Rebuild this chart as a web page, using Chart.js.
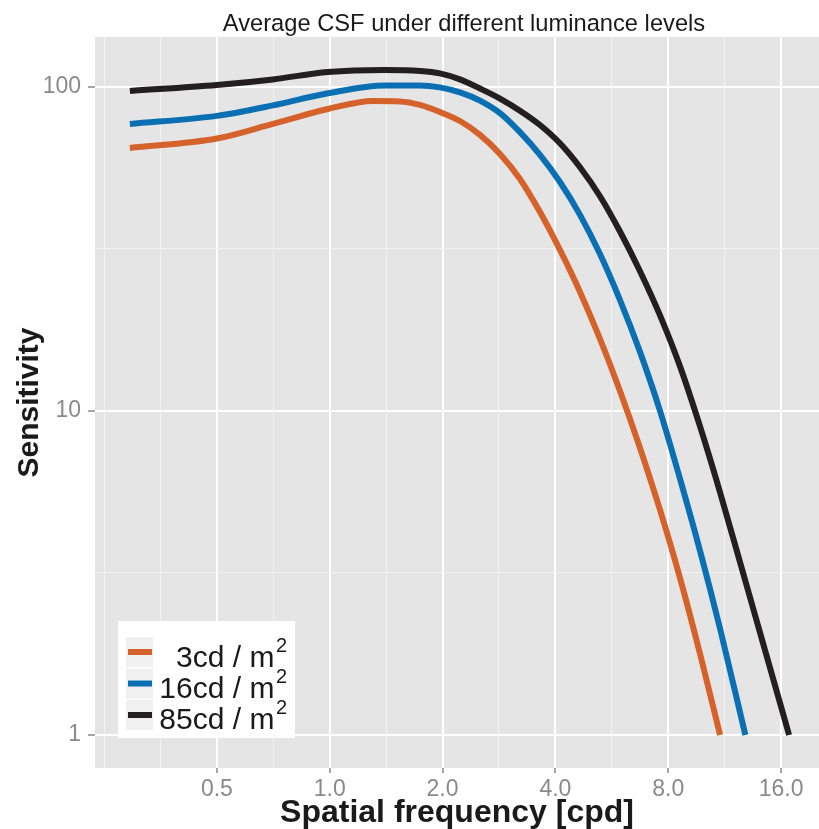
<!DOCTYPE html>
<html><head><meta charset="utf-8">
<script src="https://cdn.jsdelivr.net/npm/chart.js@4/dist/chart.umd.min.js"></script>
<style>html,body{margin:0;padding:0;background:#fff;}canvas{display:block;}</style>
</head><body>
<canvas id="c" width="819" height="829"></canvas>
<script>
const titleText = 'Average CSF under different luminance levels';
const xAxisTitle = 'Spatial frequency [cpd]';
const yAxisTitle = 'Sensitivity';
const xMajorTicks = [0.5, 1, 2, 4, 8, 16];
const xTickLabels = ['0.5', '1.0', '2.0', '4.0', '8.0', '16.0'];
const xMinorTicks = [0.25, 0.3536, 0.7071, 1.4142, 2.8284, 5.6569, 11.3137];
const yMajorTicks = [1, 10, 100];
const yTickLabels = ['1', '10', '100'];
const yMinorTicks = [3.1623, 31.623];
const seriesLabels = ['3cd / m²', '16cd / m²', '85cd / m²'];

const freq3  = [0.293, 0.5, 0.705, 0.989, 1.304, 1.539, 1.741, 1.968, 2.226, 2.517, 2.846, 3.218, 3.639, 4.114, 4.653, 5.261, 5.949, 6.727, 7.607, 8.602, 9.727, 11.0];
const sens3  = [64.8, 69.3, 76.9, 85.5, 90.5, 90.2, 88.0, 83.7, 78.5, 71.1, 62.1, 52.0, 41.1, 31.4, 23.3, 16.68, 11.53, 7.69, 4.95, 3.05, 1.78, 1.0];
const freq16 = [0.293, 0.5, 0.705, 0.989, 1.404, 1.741, 1.968, 2.226, 2.517, 2.846, 3.218, 3.639, 4.114, 4.653, 5.261, 5.949, 6.727, 7.607, 8.602, 9.727, 11.0, 12.85];
const sens16 = [76.9, 81.4, 87.7, 95.6, 101.1, 101.1, 99.7, 96.2, 90.7, 83.0, 72.5, 61.7, 50.9, 40.3, 30.5, 22.0, 15.22, 10.01, 6.17, 3.70, 2.13, 1.0];
const freq85 = [0.293, 0.5, 0.705, 0.989, 1.404, 1.741, 1.968, 2.226, 2.517, 2.846, 3.218, 3.639, 4.114, 4.653, 5.261, 5.949, 6.727, 7.607, 8.602, 9.727, 11.0, 12.44, 14.06, 16.81];
const sens85 = [97.2, 101.4, 105.5, 111.2, 112.8, 112.0, 110.1, 105.5, 98.9, 92.1, 84.5, 76.3, 67.0, 56.5, 46.0, 35.8, 27.0, 19.73, 13.73, 8.96, 5.61, 3.41, 2.07, 1.0];

const toPts = (xs, ys) => xs.map((x, i) => ({x: x, y: ys[i]}));
const FONT = '"Liberation Sans", Arial, Helvetica, sans-serif';

const panelBg = {
  id: 'panelBg',
  beforeDraw(chart) {
    const {ctx, chartArea: a, width, height} = chart;
    ctx.save();
    ctx.fillStyle = '#ffffff';
    ctx.fillRect(0, 0, width, height);
    ctx.fillStyle = '#e5e5e5';
    ctx.fillRect(a.left, a.top, a.right - a.left, a.bottom - a.top);
    ctx.restore();
  }
};

const titlePlugin = {
  id: 'ggTitle',
  afterDraw(chart) {
    const ctx = chart.ctx;
    ctx.save();
    ctx.font = '23.7px ' + FONT;
    ctx.fillStyle = '#1a1a1a';
    ctx.textAlign = 'center';
    ctx.textBaseline = 'alphabetic';
    ctx.fillText(titleText, 464, 31);
    ctx.restore();
  }
};

const legendPlugin = {
  id: 'ggLegend',
  afterDatasetsDraw(chart) {
    const ctx = chart.ctx;
    ctx.save();
    ctx.fillStyle = '#ffffff';
    ctx.fillRect(118, 621, 177, 117);
    chart.data.datasets.forEach((ds, i) => {
      const top = 637 + 31.5 * i;
      const baseline = 667 + 31 * i;
      ctx.fillStyle = '#f0f0f1';
      ctx.fillRect(126, top, 27, 30);
      ctx.strokeStyle = ds.borderColor;
      ctx.lineWidth = 6;
      ctx.lineCap = 'butt';
      ctx.beginPath();
      ctx.moveTo(128, top + 15);
      ctx.lineTo(152, top + 15);
      ctx.stroke();
      const label = ds.label;
      const hasSup = label.endsWith('²');
      const base = hasSup ? label.slice(0, -1) : label;
      const right = 287;
      ctx.fillStyle = '#1a1a1a';
      ctx.textBaseline = 'alphabetic';
      let supW = 0;
      if (hasSup) {
        ctx.font = '20px ' + FONT;
        supW = ctx.measureText('2').width;
        ctx.textAlign = 'left';
        ctx.fillText('2', right - supW, baseline - 15);
      }
      ctx.font = '30px ' + FONT;
      ctx.textAlign = 'right';
      ctx.fillText(base, right - supW - 1.5, baseline);
    });
    ctx.restore();
  }
};

const isIn = (arr, v) => arr.some(a => Math.abs(a - v) < 1e-6);

new Chart(document.getElementById('c'), {
  type: 'line',
  data: {
    datasets: [
      {label: seriesLabels[0], data: toPts(freq3, sens3), borderColor: '#d5622b'},
      {label: seriesLabels[1], data: toPts(freq16, sens16), borderColor: '#0b70b3'},
      {label: seriesLabels[2], data: toPts(freq85, sens85), borderColor: '#231f20'}
    ]
  },
  options: {
    responsive: false,
    animation: false,
    devicePixelRatio: 1,
    layout: {padding: {top: 37, left: 0, right: 0, bottom: 0}},
    elements: {
      line: {borderWidth: 6, cubicInterpolationMode: 'monotone', borderCapStyle: 'butt', borderJoinStyle: 'round', fill: false},
      point: {radius: 0, hoverRadius: 0}
    },
    plugins: {legend: {display: false}, title: {display: false}, tooltip: {enabled: false}},
    scales: {
      x: {
        type: 'logarithmic',
        min: 0.2365, max: 20.2,
        afterBuildTicks: s => { s.ticks = [...xMajorTicks, ...xMinorTicks].sort((a, b) => a - b).map(v => ({value: v})); },
        afterFit: s => { s.height = 61; },
        border: {display: false},
        grid: {
          color: c => isIn(xMajorTicks, c.tick.value) ? '#ffffff' : '#f2f2f2',
          lineWidth: c => isIn(xMajorTicks, c.tick.value) ? 2 : 1,
          tickColor: c => isIn(xMajorTicks, c.tick.value) ? '#8a8a8a' : 'rgba(0,0,0,0)',
          tickLength: 5,
          tickWidth: 1.5
        },
        ticks: {
          autoSkip: false, maxRotation: 0, padding: 3,
          color: '#8a8a8a', font: {family: FONT, size: 23},
          callback: v => { const i = xMajorTicks.findIndex(a => Math.abs(a - v) < 1e-6); return i >= 0 ? xTickLabels[i] : ''; }
        },
        title: {display: true, text: xAxisTitle, color: '#1a1a1a', font: {family: FONT, size: 32, weight: 'bold', lineHeight: 1}, padding: {top: 0, bottom: 0}}
      },
      y: {
        type: 'logarithmic',
        min: 0.791, max: 142.6,
        afterBuildTicks: s => { s.ticks = [...yMajorTicks, ...yMinorTicks].sort((a, b) => a - b).map(v => ({value: v})); },
        afterFit: s => { s.width = 95; },
        border: {display: false},
        grid: {
          color: c => isIn(yMajorTicks, c.tick.value) ? '#ffffff' : '#f2f2f2',
          lineWidth: c => isIn(yMajorTicks, c.tick.value) ? 2 : 1,
          tickColor: c => isIn(yMajorTicks, c.tick.value) ? '#8a8a8a' : 'rgba(0,0,0,0)',
          tickLength: 7,
          tickWidth: 1.5
        },
        ticks: {
          autoSkip: false, padding: 7,
          color: '#8a8a8a', font: {family: FONT, size: 23},
          callback: v => { const i = yMajorTicks.findIndex(a => Math.abs(a - v) < 1e-6); return i >= 0 ? yTickLabels[i] : ''; }
        },
        title: {display: true, text: yAxisTitle, color: '#1a1a1a', font: {family: FONT, size: 30, weight: 'bold', lineHeight: 1}, padding: {top: 15, bottom: 0}}
      }
    }
  },
  plugins: [panelBg, titlePlugin, legendPlugin]
});
</script>
</body></html>
